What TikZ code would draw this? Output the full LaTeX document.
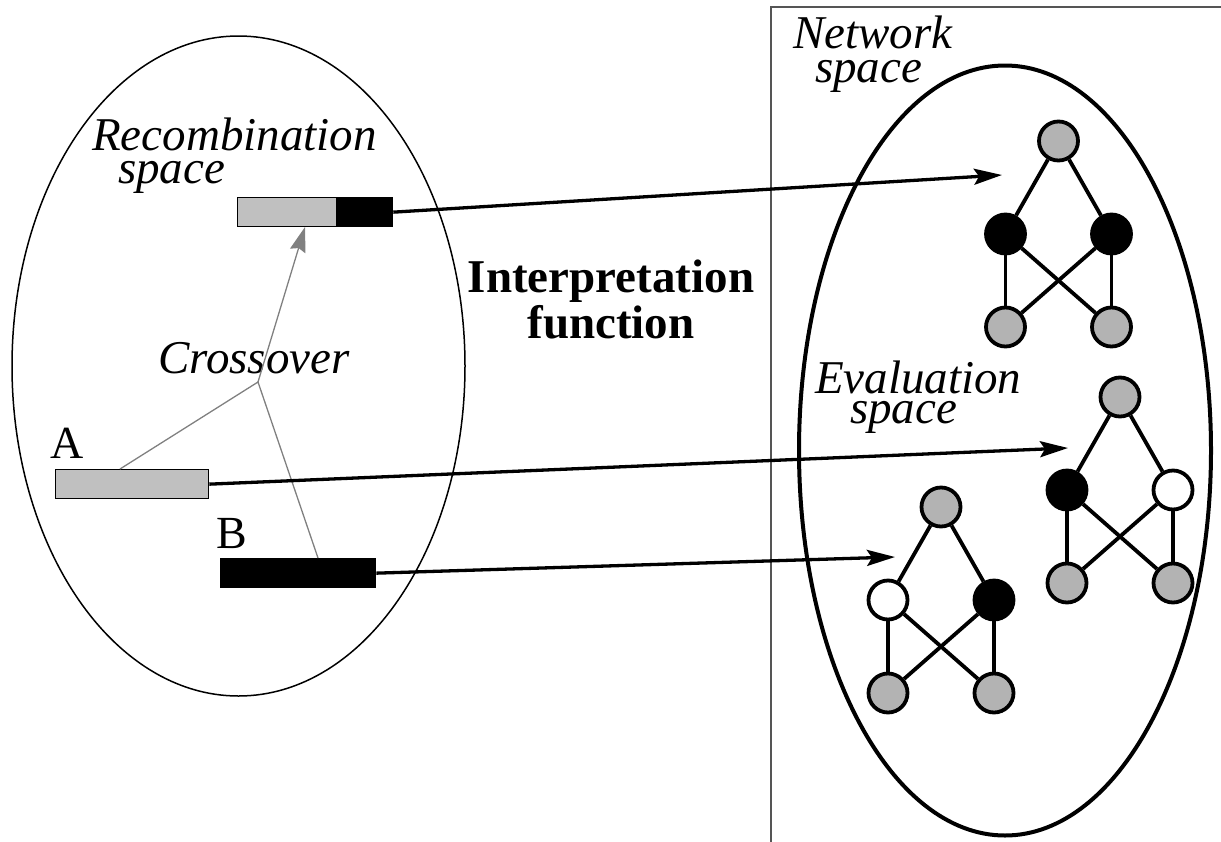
\documentclass[tikz,border=0pt]{standalone}
\usepackage{fontspec}
\setmainfont{Liberation Serif}
\usetikzlibrary{arrows.meta,calc}
\definecolor{bargray}{HTML}{C0C0C0}
\definecolor{nodegray}{HTML}{B3B3B3}
\definecolor{linegray}{HTML}{808080}
\definecolor{framegray}{HTML}{555555}
\tikzset{
  lbl/.style={inner sep=0pt, anchor=base west, font=\fontsize{47}{50}\selectfont\itshape},
  ulbl/.style={inner sep=0pt, anchor=base west, font=\fontsize{46}{50}\selectfont},
  blbl/.style={inner sep=0pt, anchor=base, font=\fontsize{47}{50}\selectfont\bfseries},
  bar/.style={draw=black, line width=1.3pt, inner sep=0pt, minimum height=29pt},
  netnode/.style={circle, draw=black, line width=3.8pt, minimum size=39pt, inner sep=0pt},
  netedge/.style={line width=3.8pt},
  maparrow/.style={line width=3.3pt, -{Stealth[length=28pt,width=16pt,inset=5pt]}},
  crossline/.style={draw=linegray, line width=1.3pt},
}
\newcommand\mynetwork[5]{%
  \node[netnode, fill=nodegray] (#1t) at (#2,#3) {};
  \node[netnode, fill=#4] (#1l) at (#2-53,#3+93) {};
  \node[netnode, fill=#5] (#1r) at (#2+53,#3+93) {};
  \node[netnode, fill=nodegray] (#1bl) at (#2-53,#3+186) {};
  \node[netnode, fill=nodegray] (#1br) at (#2+53,#3+186) {};
  \draw[netedge] (#1t) -- (#1l);
  \draw[netedge] (#1t) -- (#1r);
  \draw[netedge] (#1l) -- (#1bl);
  \draw[netedge] (#1r) -- (#1br);
  \draw[netedge] (#1l) -- (#1br);
  \draw[netedge] (#1r) -- (#1bl);
}
\begin{document}
\begin{tikzpicture}[x=1pt,y=-1pt]
\useasboundingbox (0,0) rectangle (1221,841);
% frame of network space (clipped at the picture's border)
\begin{scope}
\clip (0,0) rectangle (1221,841);
\draw[draw=framegray, line width=2pt] (771,900) -- (771,7) -- (1300,7);
\end{scope}
% ellipses
\draw[line width=1.5pt] (238.5,366) ellipse [x radius=226.5, y radius=330];
\draw[line width=4pt] (1005,450.5) ellipse [x radius=206, y radius=385];
% labels
\node[lbl] (recomb1) at (92,150) {Recombination};
\node[lbl] (recomb2) at (118,183) {space};
\node[lbl] (cross) at (158,373) {Crossover};
\node[ulbl] (labA) at (50,458) {A};
\node[ulbl] (labB) at (216,548) {B};
\node[blbl] (interp1) at (611,292) {Interpretation};
\node[blbl] (interp2) at (611,338) {function};
\node[lbl] (net1) at (793,48) {Network};
\node[lbl] (net2) at (815,82) {space};
\node[lbl] (eval1) at (815,393) {Evaluation};
\node[lbl] (eval2) at (850,423) {space};
% bars
\node[bar, fill=bargray, minimum width=99pt, anchor=north west] (childg) at (237,197) {};
\node[bar, fill=black, minimum width=56pt, anchor=north west] (childb) at (336,197) {};
\node[bar, fill=bargray, minimum width=153pt, anchor=north west] (barA) at (55,469) {};
\node[bar, fill=black, minimum width=155pt, anchor=north west] (barB) at (220,558) {};
% crossover lines
\coordinate (J) at (258,382);
\coordinate (pa) at (120,469);
\coordinate (pb) at (318,558);
\coordinate (pc) at (305,227);
\draw[crossline] (pa) -- (J) -- (pb);
\draw[crossline, -{Stealth[length=25pt,width=16pt,inset=3pt,fill=linegray]}] (J) -- (pc);
% networks
\mynetwork{n1}{1058.5}{141}{black}{black}
\mynetwork{n2}{1120}{397}{black}{white}
\mynetwork{n3}{941}{507}{white}{black}
% mapping arrows
\coordinate (t1) at (1002,175);
\coordinate (t2) at (1068,448);
\coordinate (t3) at (895,557);
\draw[maparrow] (childb.east) -- (t1);
\draw[maparrow] (barA.east) -- (t2);
\draw[maparrow] (barB.east) -- (t3);
\end{tikzpicture}
\end{document}
